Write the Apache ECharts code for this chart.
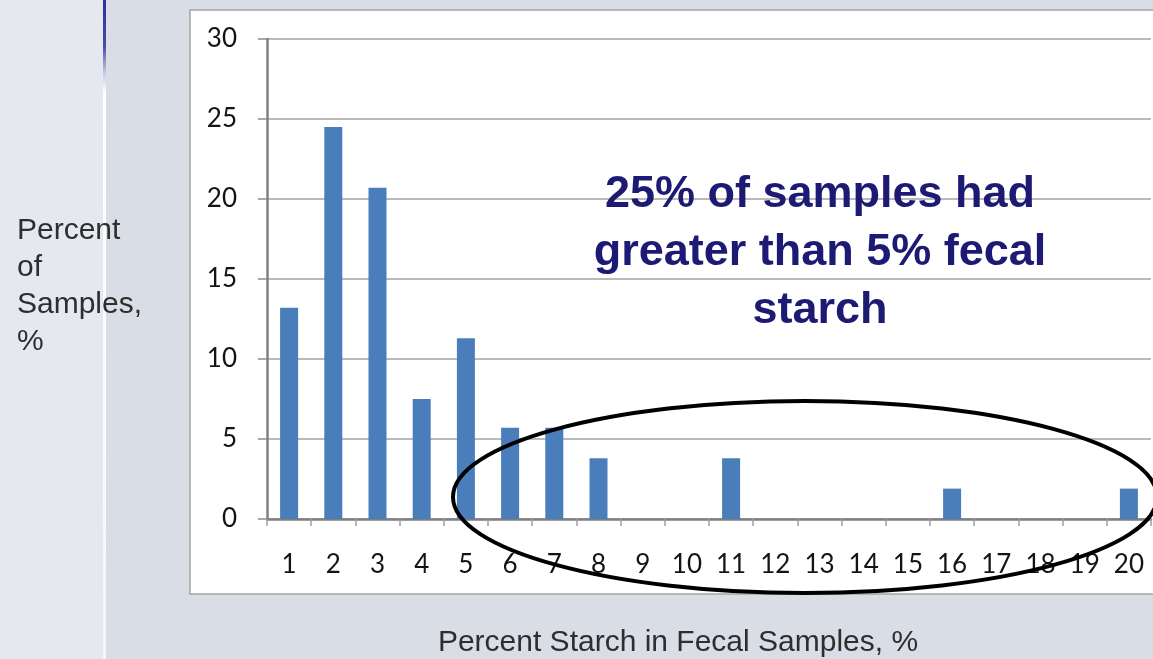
<!DOCTYPE html>
<html><head><meta charset="utf-8">
<script src="https://cdn.jsdelivr.net/npm/echarts@6/dist/echarts.min.js"></script>
<style>html,body{margin:0;padding:0;background:#d9dde6;}#c{width:1153px;height:659px;}</style>
</head><body><div id="c"></div>
<script>
const categories = ['1','2','3','4','5','6','7','8','9','10','11','12','13','14','15','16','17','18','19','20'];
const percentOfSamples = [13.2,24.5,20.7,7.5,11.3,5.7,5.7,3.8,0,0,3.8,0,0,0,0,1.9,0,0,0,1.9];
const yMin = 0, yMax = 30, yInterval = 5;
const yAxisTitle = 'Percent\nof\nSamples,\n%';
const xAxisTitle = 'Percent Starch in Fecal Samples, %';
const annotation = '25% of samples had\ngreater than 5% fecal\nstarch';

const chart = echarts.init(document.getElementById('c'), null, {renderer:'canvas'});
chart.setOption({
  animation:false,
  backgroundColor:'#d9dde6',
  grid:{left:267, right:2, top:39, bottom:140, containLabel:false},
  xAxis:{
    type:'category', data:categories,
    axisLine:{show:true, lineStyle:{color:'#7f7f7f', width:2.5}},
    axisTick:{show:true, length:7, lineStyle:{color:'#a0a0a0', width:1.5}},
    axisLabel:{interval:0, margin:33, fontFamily:'Lato', fontSize:26, color:'#141414'},
    splitLine:{show:false}
  },
  yAxis:{
    type:'value', min:yMin, max:yMax, interval:yInterval,
    axisLine:{show:true, lineStyle:{color:'#7f7f7f', width:2.5}},
    axisTick:{show:true, length:9, lineStyle:{color:'#8c8c8c', width:1.5}},
    axisLabel:{margin:30, fontFamily:'Lato', fontSize:26, color:'#141414'},
    splitLine:{show:true, lineStyle:{color:'#a3a3a3', width:1.5}}
  },
  series:[{
    type:'bar', data:percentOfSamples, barWidth:18,
    itemStyle:{color:'#4a7ebb'}
  }],
  graphic:[
    {type:'rect', z:-20, shape:{x:0,y:0,width:103,height:659}, style:{fill:'#e5e8ee'}},
    {type:'rect', z:-19, shape:{x:103,y:0,width:3,height:659}, style:{fill:new echarts.graphic.LinearGradient(0,0,0,1,[
      {offset:0,color:'#2e2ea0'},{offset:0.07,color:'#4a4aa8'},{offset:0.11,color:'#c4c8de'},{offset:0.14,color:'#ffffff'},{offset:1,color:'#f4f6f9'}])}},
    {type:'rect', z:-18, shape:{x:190,y:10,width:1000,height:584}, style:{fill:'#ffffff', stroke:'#a5a5a5', lineWidth:1.5}},
    {type:'text', z:50, x:17, y:212, style:{text:yAxisTitle, font:'30px "Liberation Sans"', fill:'#2e2e2e', lineHeight:37, align:'left', verticalAlign:'top'}},
    {type:'text', z:50, x:678, y:643, style:{text:xAxisTitle, font:'30px "Liberation Sans"', fill:'#2e2e2e', align:'center', verticalAlign:'middle'}},
    {type:'text', z:50, x:820, y:166, style:{text:annotation, font:'bold 45px "Liberation Sans"', fill:'#1c1a72', lineHeight:58, align:'center', verticalAlign:'top'}},
    {type:'ellipse', z:100, shape:{cx:805, cy:497, rx:352, ry:96}, style:{fill:null, stroke:'#000000', lineWidth:4}}
  ]
});
</script></body></html>
